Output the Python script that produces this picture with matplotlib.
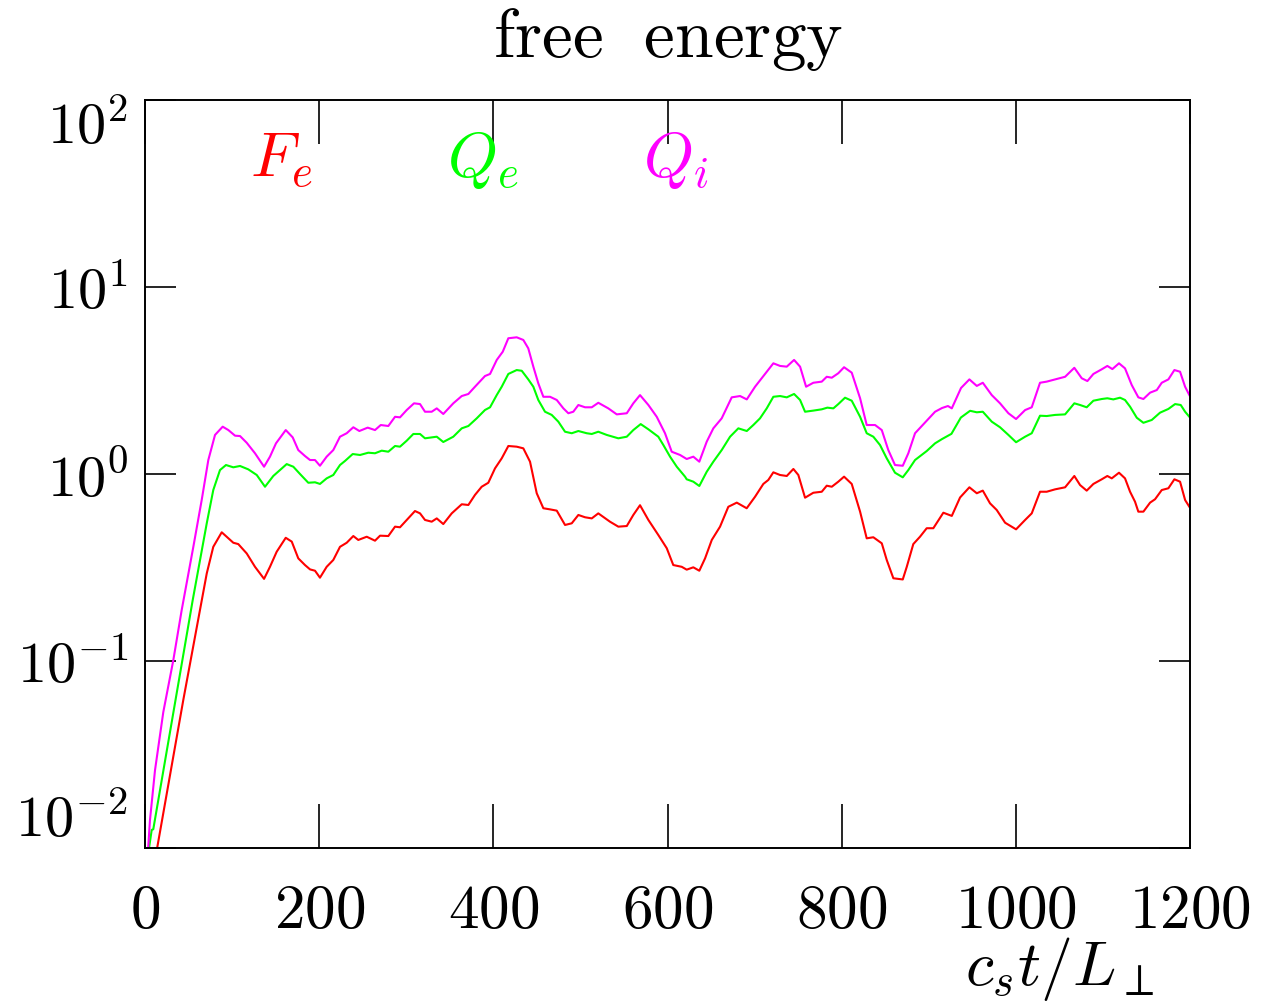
import numpy as np
import matplotlib
matplotlib.use("Agg")
import matplotlib.pyplot as plt

plt.rcParams['mathtext.fontset'] = 'cm'
plt.rcParams['font.family'] = 'serif'
plt.rcParams['font.serif'] = ['cmr10', 'DejaVu Serif']
plt.rcParams['axes.formatter.use_mathtext'] = True

# F_e (red)
t_fe = [0, 14.1, 44.0, 63.2, 70.9, 78.4, 88.1, 95.7, 101.4, 107.1, 116.8, 126.3, 136.7, 143.5, 151.2,
        161.6, 168.5, 176.0, 183.7, 189.5, 195.2, 200.9, 208.6, 216.2, 223.9, 231.6, 239.2, 244.9,
        254.6, 264.1, 269.9, 279.4, 287.1, 292.8, 300.5, 310.0, 315.8, 321.5, 329.2, 335.0, 342.5,
        352.2, 363.7, 371.3, 378.9, 386.6, 394.2, 401.9, 409.6, 417.2, 426.8, 434.4, 442.1, 449.8,
        457.4, 465.1, 472.8, 482.3, 490.0, 497.6, 505.3, 513.0, 520.5, 533.9, 543.5, 553.2, 560.7,
        568.4, 578.0, 589.4, 599.1, 606.6, 616.3, 622.0, 629.6, 636.5, 643.1, 650.8, 660.3, 669.8,
        679.5, 690.9, 700.5, 710.0, 715.7, 721.5, 729.2, 736.9, 744.5, 750.2, 757.9, 767.4, 777.1,
        782.8, 788.6, 796.1, 802.7, 811.5, 821.1, 828.7, 836.3, 846.0, 851.7, 859.3, 870.1, 874.7,
        882.2, 889.9, 897.6, 905.2, 916.7, 926.4, 935.9, 946.6, 955.1, 962.0, 970.3, 978.0, 987.6,
        1000.2, 1010.6, 1018.2, 1027.7, 1035.4, 1045.0, 1056.5, 1067.1, 1073.7, 1081.3, 1089.0,
        1098.6, 1105.0, 1110.1, 1118.4, 1125.3, 1131.1, 1136.8, 1140.6, 1146.4, 1154.1, 1159.8,
        1167.5, 1175.1, 1182.0, 1188.5, 1194.3, 1199.2]
v_fe = [0.0045, 0.0101, 0.062, 0.189, 0.294, 0.408, 0.488, 0.453, 0.429, 0.422, 0.376, 0.319, 0.275,
        0.319, 0.384, 0.456, 0.435, 0.354, 0.326, 0.309, 0.304, 0.279, 0.319, 0.347, 0.408, 0.429,
        0.466, 0.444, 0.462, 0.440, 0.468, 0.466, 0.523, 0.519, 0.568, 0.634, 0.616, 0.568, 0.556,
        0.579, 0.540, 0.616, 0.689, 0.683, 0.773, 0.855, 0.898, 1.072, 1.213, 1.412, 1.40, 1.372,
        1.164, 0.789, 0.656, 0.647, 0.637, 0.534, 0.545, 0.604, 0.587, 0.579, 0.616, 0.556, 0.523,
        0.527, 0.604, 0.681, 0.568, 0.472, 0.401, 0.326, 0.319, 0.308, 0.317, 0.304, 0.354, 0.444,
        0.523, 0.668, 0.703, 0.656, 0.756, 0.885, 0.929, 1.021, 0.988, 0.976, 1.064, 0.988, 0.747,
        0.794, 0.804, 0.866, 0.855, 0.910, 0.968, 0.885, 0.629, 0.453, 0.459, 0.426, 0.347, 0.277,
        0.273, 0.319, 0.422, 0.462, 0.513, 0.513, 0.621, 0.597, 0.749, 0.849, 0.789, 0.815, 0.697,
        0.642, 0.549, 0.506, 0.568, 0.616, 0.804, 0.804, 0.828, 0.849, 0.976, 0.873, 0.815, 0.885,
        0.937, 0.976, 0.948, 1.016, 0.948, 0.804, 0.711, 0.629, 0.629, 0.703, 0.733, 0.821, 0.839,
        0.937, 0.910, 0.726, 0.668]

# Q_e (green)
t_qe = [0, 4.9, 7.7, 9.5, 42.3, 54.8, 63.2, 70.9, 78.4, 86.1, 93.0, 101.4, 109.1, 118.6, 128.3, 137.8,
        147.3, 155.0, 162.7, 170.3, 178.0, 187.5, 195.2, 200.9, 208.6, 216.2, 223.9, 229.7, 238.5,
        246.9, 256.4, 264.1, 271.8, 279.4, 287.1, 292.8, 300.5, 308.1, 315.8, 321.5, 329.2, 335.0,
        342.5, 354.0, 363.7, 371.3, 380.9, 390.4, 396.2, 403.9, 409.6, 417.2, 426.8, 432.6, 440.1,
        445.9, 451.6, 459.3, 467.0, 474.6, 482.3, 490.0, 497.6, 507.2, 513.0, 520.5, 530.2, 543.5,
        553.2, 560.7, 569.2, 578.0, 589.4, 595.2, 602.9, 610.6, 620.1, 622.0, 629.6, 636.5, 645.0,
        652.6, 662.2, 671.8, 681.3, 691.0, 698.5, 706.2, 713.9, 721.5, 729.2, 736.9, 745.3, 752.2,
        757.9, 767.4, 777.1, 783.5, 790.4, 796.1, 803.8, 811.5, 821.1, 828.7, 836.3, 844.0, 851.7,
        861.2, 870.1, 876.5, 884.2, 897.6, 907.2, 915.2, 926.0, 936.8, 947.4, 955.1, 962.0, 972.3,
        981.8, 991.4, 1000.2, 1010.6, 1018.2, 1027.7, 1035.4, 1045.0, 1056.5, 1067.1, 1073.7, 1081.3,
        1089.0, 1098.6, 1105.0, 1111.9, 1119.6, 1125.3, 1131.1, 1138.8, 1146.4, 1156.0, 1165.5,
        1175.1, 1182.8, 1189.3, 1194.3, 1199.2]
v_qe = [0.0063, 0.0102, 0.0125, 0.0126, 0.097, 0.212, 0.347, 0.545, 0.821, 1.05, 1.117, 1.086, 1.104,
        1.059, 0.988, 0.855, 0.976, 1.05, 1.13, 1.094, 1.0, 0.898, 0.903, 0.885, 0.948, 0.988, 1.117,
        1.175, 1.279, 1.264, 1.300, 1.291, 1.333, 1.316, 1.412, 1.40, 1.507, 1.637, 1.637, 1.552,
        1.570, 1.583, 1.483, 1.583, 1.755, 1.806, 1.985, 2.2, 2.274, 2.645, 2.929, 3.428, 3.597,
        3.565, 3.206, 2.929, 2.488, 2.153, 2.07, 1.905, 1.683, 1.652, 1.698, 1.652, 1.637, 1.683,
        1.618, 1.552, 1.583, 1.718, 1.849, 1.734, 1.583, 1.429, 1.238, 1.094, 0.968, 0.937, 0.910,
        0.863, 1.028, 1.164, 1.343, 1.583, 1.755, 1.698, 1.828, 1.985, 2.244, 2.588, 2.612, 2.57,
        2.679, 2.488, 2.153, 2.183, 2.218, 2.264, 2.244, 2.366, 2.559, 2.466, 2.023, 1.652, 1.583,
        1.429, 1.213, 1.016, 0.96, 1.05, 1.188, 1.327, 1.459, 1.538, 1.64, 2.004, 2.178, 2.138,
        2.153, 1.905, 1.778, 1.618, 1.479, 1.583, 1.652, 2.05, 2.042, 2.07, 2.084, 2.388, 2.339,
        2.274, 2.466, 2.518, 2.541, 2.506, 2.559, 2.488, 2.291, 2.0, 1.879, 1.945, 2.128, 2.228,
        2.366, 2.339, 2.153, 2.023]

# Q_i (magenta)
t_qi = [0, 3.8, 5.7, 9.5, 11.5, 21.0, 32.5, 42.1, 55.5, 65.1, 72.7, 80.4, 89.2, 95.7, 103.4, 109.1,
        116.8, 126.3, 136.7, 143.5, 150.4, 161.6, 169.6, 176.0, 183.7, 189.5, 195.2, 200.9, 208.6,
        216.2, 223.9, 231.6, 239.2, 246.1, 255.7, 264.1, 270.7, 279.4, 287.1, 292.8, 300.5, 308.9,
        315.8, 321.5, 329.2, 335.0, 342.5, 354.0, 363.7, 371.3, 378.9, 390.4, 396.2, 403.9, 410.8,
        417.2, 426.8, 434.4, 440.1, 445.9, 451.6, 457.4, 465.1, 472.8, 480.4, 486.1, 491.8, 497.6,
        505.3, 513.0, 520.5, 532.0, 541.7, 553.2, 560.7, 568.4, 578.0, 587.6, 597.1, 604.8, 614.4,
        622.0, 629.6, 636.5, 645.0, 652.6, 662.2, 673.7, 683.3, 691.0, 700.5, 712.0, 721.5, 729.2,
        736.9, 745.3, 752.2, 759.1, 767.4, 777.1, 782.8, 788.6, 796.1, 802.7, 811.5, 821.1, 828.7,
        838.3, 846.0, 853.5, 861.2, 870.1, 876.5, 884.2, 897.6, 907.2, 915.2, 922.0, 926.4, 937.0,
        946.6, 955.1, 962.0, 972.3, 981.8, 991.4, 1000.2, 1010.6, 1018.2, 1027.7, 1035.4, 1045.0,
        1056.5, 1067.1, 1075.6, 1082.1, 1089.0, 1098.6, 1105.0, 1110.8, 1118.4, 1125.3, 1133.0,
        1140.6, 1146.4, 1154.1, 1161.8, 1167.5, 1175.1, 1182.0, 1188.5, 1194.3, 1199.2]
v_qi = [0.0055, 0.0102, 0.0141, 0.0213, 0.0261, 0.0533, 0.101, 0.187, 0.408, 0.726, 1.188, 1.618,
        1.791, 1.718, 1.603, 1.596, 1.469, 1.291, 1.094, 1.238, 1.459, 1.718, 1.570, 1.343, 1.248,
        1.188, 1.188, 1.107, 1.238, 1.343, 1.583, 1.652, 1.778, 1.698, 1.77, 1.718, 1.828, 1.806,
        2.023, 2.009, 2.198, 2.388, 2.366, 2.153, 2.153, 2.244, 2.094, 2.388, 2.612, 2.679, 2.929,
        3.342, 3.428, 4.074, 4.508, 5.32, 5.383, 5.21, 4.70, 3.75, 3.055, 2.588, 2.588, 2.488, 2.244,
        2.113, 2.153, 2.339, 2.274, 2.274, 2.404, 2.244, 2.084, 2.113, 2.388, 2.642, 2.339, 2.023,
        1.652, 1.316, 1.264, 1.203, 1.238, 1.164, 1.489, 1.755, 1.985, 2.57, 2.612, 2.506, 2.929,
        3.428, 3.908, 3.784, 3.75, 4.074, 3.75, 2.929, 3.076, 3.119, 3.311, 3.273, 3.459, 3.724,
        3.483, 2.541, 1.828, 1.828, 1.718, 1.343, 1.117, 1.107, 1.291, 1.652, 1.928, 2.153, 2.254,
        2.31, 2.244, 2.884, 3.206, 2.958, 3.076, 2.642, 2.388, 2.113, 1.968, 2.198, 2.274, 3.076,
        3.119, 3.206, 3.311, 3.698, 3.251, 3.141, 3.428, 3.631, 3.784, 3.64, 3.908, 3.673, 2.992,
        2.57, 2.518, 2.723, 2.812, 3.076, 3.206, 3.597, 3.524, 2.929, 2.642]

x_ticks = [0, 200, 400, 600, 800, 1000, 1200]
y_ticks = [1e-2, 1e-1, 1e0, 1e1, 1e2]
y_ticklabels = [r'$10^{-2}$', r'$10^{-1}$', r'$10^{0}$', r'$10^{1}$', r'$10^{2}$']

fig = plt.figure(figsize=(12.62, 10.08), dpi=100)
ax = fig.add_axes([0.1149, 0.1587, 0.8281, 0.7421])

ax.plot(t_fe, v_fe, color='#ff0000', lw=1.5)
ax.plot(t_qe, v_qe, color='#00ff00', lw=1.5)
ax.plot(t_qi, v_qi, color='#ff00ff', lw=1.5)

ax.set_yscale('log')
ax.set_xlim(0, 1200)
ax.set_ylim(1e-2, 1e2)
ax.set_xticks(x_ticks)
ax.set_xticklabels([r'$%d$' % v for v in x_ticks])
ax.set_yticks(y_ticks)
ax.set_yticklabels(y_ticklabels)
ax.minorticks_off()
ax.tick_params(axis='x', which='major', direction='in', length=32, width=1.2,
               top=True, bottom=True, pad=26, labelsize=44)
ax.tick_params(axis='y', which='major', direction='in', length=22, width=1.2,
               left=True, right=True, pad=12, labelsize=42)
for s in ax.spines.values():
    s.set_linewidth(1.4)

ylabs = ax.get_yticklabels()
ylabs[0].set_va('bottom')
ylabs[-1].set_va('top')

ax.text(0.1005, 0.897, r'$F_e$', transform=ax.transAxes, color='#ff0000', fontsize=46, va='baseline')
ax.text(0.289, 0.897, r'$Q_e$', transform=ax.transAxes, color='#00ff00', fontsize=46, va='baseline')
ax.text(0.4766, 0.897, r'$Q_i$', transform=ax.transAxes, color='#ff00ff', fontsize=46, va='baseline')

fig.text(0.529, 0.943, r'$\mathrm{free\ \ energy}$', ha='center', va='baseline', fontsize=50)
fig.text(0.84, 0.023, r'$c_s t/L_\perp$', ha='center', va='baseline', fontsize=46)

fig.savefig('out.png', dpi=100)
